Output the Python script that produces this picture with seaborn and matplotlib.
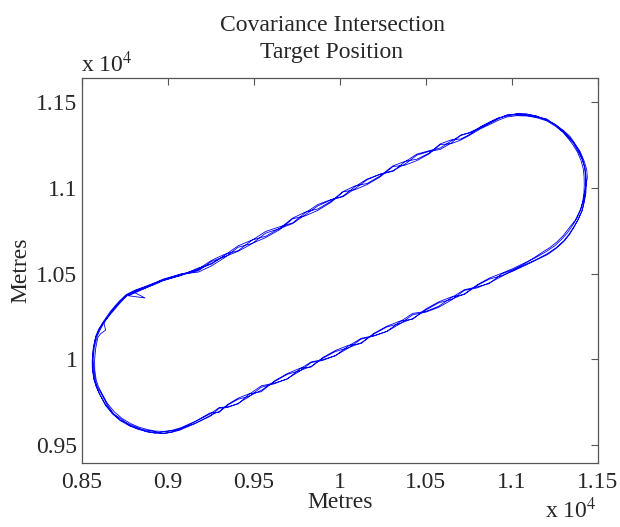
import pandas as pd
import seaborn as sns
import matplotlib
matplotlib.use("Agg")
import matplotlib.pyplot as plt
from matplotlib.ticker import FixedLocator, FuncFormatter

# Fused target track in metres. Straights are sampled at fixed eastings;
# each lap has its own northings there and its own points round both bends.
start_x = [8800, 8869, 8772, 8838, 8925, 8975, 9075]
start_y = [10394, 10358, 10371, 10400, 10440, 10462, 10492]

upper_x = [9179, 9255, 9330, 9410, 9490, 9570, 9654, 9727, 9800, 9875, 9950, 10020,
           10090, 10160, 10235, 10310, 10380, 10450, 10520, 10585, 10650, 10705, 10758]
lower_x = [10942, 10870, 10800, 10725, 10650, 10575, 10500, 10425, 10351, 10275, 10200,
           10125, 10050, 9975, 9900, 9835, 9770, 9695, 9620, 9545, 9470, 9410, 9350,
           9300, 9247]

lap1_upper_y = [10527, 10577, 10612, 10634, 10694, 10746, 10774, 10796, 10855, 10904, 10932,
                10953, 11008, 11052, 11080, 11097, 11153, 11198, 11217, 11233, 11275, 11306,
                11325]
lap2_upper_y = [10509, 10545, 10592, 10654, 10676, 10710, 10758, 10820, 10837, 10870, 10916,
                10977, 10990, 11020, 11064, 11125, 11133, 11160, 11199, 11253, 11259, 11280,
                11309]
lap3_upper_y = [10533, 10555, 10606, 10662, 10696, 10718, 10766, 10824, 10859, 10878, 10922,
                10979, 11012, 11026, 11070, 11129, 11155, 11168, 11203, 11257, 11281, 11286,
                11313]
lap4_upper_y = [10517, 10571, 10598, 10630, 10674, 10736, 10764, 10792, 10843, 10896, 10930,
                10949, 10996, 11048, 11080, 11101, 11139, 11192, 11213, 11225, 11263, 11310,
                11321]

lap1_lower_y = [10484, 10446, 10417, 10402, 10346, 10303, 10275, 10260, 10207, 10163, 10136,
                10118, 10065, 10021, 9993, 9981, 9932, 9886, 9857, 9837, 9779, 9743, 9719,
                9714, 9667]
lap2_lower_y = [10502, 10474, 10435, 10378, 10364, 10335, 10293, 10234, 10223, 10193, 10152,
                10092, 10081, 10051, 10009, 9955, 9948, 9916, 9873, 9811, 9797, 9773, 9737,
                9690, 9687]
lap3_lower_y = [10498, 10442, 10423, 10406, 10360, 10309, 10279, 10268, 10219, 10163, 10138,
                10122, 10077, 10021, 9997, 9985, 9944, 9884, 9861, 9845, 9793, 9739, 9723,
                9718, 9681]
lap4_lower_y = [10488, 10468, 10431, 10382, 10350, 10329, 10287, 10238, 10209, 10189, 10148,
                10096, 10067, 10045, 10005, 9959, 9934, 9912, 9869, 9819, 9783, 9767, 9733,
                9696, 9671]

lap1_east_x = [10820, 10874, 10920, 10971, 11030, 11087, 11145, 11203, 11255, 11300, 11333,
               11362, 11390, 11412, 11426, 11432, 11434, 11431, 11422, 11410, 11388, 11360,
               11334, 11303, 11258, 11205, 11140, 11066, 11003]
lap1_east_y = [11355, 11382, 11406, 11424, 11433, 11430, 11418, 11399, 11368, 11331, 11298,
               11264, 11218, 11166, 11117, 11067, 11018, 10969, 10918, 10869, 10818, 10771,
               10731, 10692, 10651, 10615, 10581, 10546, 10517]
lap2_east_x = [10820, 10874, 10920, 10971, 11030, 11087, 11145, 11203, 11255, 11300, 11328,
               11354, 11382, 11403, 11416, 11421, 11422, 11420, 11413, 11402, 11380, 11352,
               11327, 11294, 11250, 11198, 11136, 11064, 11004]
lap2_east_y = [11346, 11371, 11394, 11414, 11422, 11420, 11410, 11392, 11360, 11323, 11290,
               11255, 11210, 11160, 11112, 11064, 11016, 10970, 10922, 10874, 10824, 10779,
               10742, 10704, 10662, 10627, 10592, 10557, 10528]
lap3_east_x = [10820, 10874, 10920, 10971, 11030, 11087, 11145, 11203, 11255, 11300, 11338,
               11368, 11398, 11420, 11436, 11440, 11432, 11424, 11416, 11400, 11370, 11335,
               11300, 11262, 11222, 11180, 11128, 11068, 11006]
lap3_east_y = [11358, 11386, 11408, 11420, 11432, 11432, 11420, 11396, 11370, 11336, 11302,
               11258, 11212, 11160, 11108, 11060, 11020, 10974, 10926, 10876, 10812, 10768,
               10722, 10684, 10652, 10626, 10591, 10553, 10522]
lap4_east_x = [10820, 10874, 10920, 10971, 11030, 11087, 11145, 11203, 11255, 11300, 11331,
               11358, 11386, 11409, 11424, 11429, 11430, 11428, 11420, 11409, 11386, 11362,
               11336, 11306, 11260, 11208, 11144, 11070, 11006]
lap4_east_y = [11350, 11378, 11402, 11426, 11427, 11424, 11414, 11403, 11366, 11326, 11294,
               11262, 11214, 11168, 11119, 11064, 11018, 10967, 10920, 10868, 10816, 10770,
               10728, 10690, 10648, 10611, 10580, 10544, 10514]

lap1_west_x = [9158, 9070, 9024, 8975, 8926, 8877, 8827, 8778, 8725, 8680, 8638, 8604, 8586,
               8574, 8566, 8564, 8570, 8583, 8600, 8623, 8668, 8720, 8760, 8812, 8868, 8924,
               8975, 9075]
lap1_west_y = [9624, 9586, 9574, 9567, 9569, 9578, 9592, 9612, 9642, 9681, 9733, 9800, 9840,
               9880, 9938, 9998, 10068, 10135, 10176, 10214, 10280, 10340, 10378, 10404, 10424,
               10446, 10468, 10497]
lap2_west_x = [9162, 9076, 9027, 8977, 8930, 8882, 8834, 8787, 8737, 8692, 8650, 8616, 8597,
               8585, 8577, 8576, 8582, 8595, 8612, 8640, 8630, 8676, 8728, 8766, 8818, 8872,
               8926, 8975, 9075]
lap2_west_y = [9638, 9600, 9586, 9579, 9581, 9590, 9604, 9624, 9654, 9692, 9743, 9806, 9843,
               9881, 9937, 9995, 10062, 10128, 10150, 10170, 10215, 10272, 10333, 10372, 10396,
               10416, 10437, 10459, 10488]
lap3_west_x = [9156, 9068, 9022, 8973, 8925, 8876, 8828, 8780, 8727, 8680, 8640, 8604, 8586,
               8572, 8563, 8562, 8568, 8582, 8600, 8622, 8668, 8718, 8758, 8812, 8866, 8922,
               8975, 9075]
lap3_west_y = [9634, 9590, 9582, 9575, 9571, 9578, 9600, 9620, 9645, 9688, 9736, 9798, 9842,
               9883, 9940, 9993, 10063, 10128, 10168, 10206, 10270, 10332, 10370, 10398, 10418,
               10440, 10461, 10490]
lap4_west_x = [9160, 9074, 9026, 8976, 8928, 8880, 8831, 8783, 8733, 8688, 8646, 8610, 8592,
               8580, 8572, 8568, 8574, 8590, 8607, 8630, 8674, 8726, 8764, 8816, 8868, 8924,
               8975, 9075, 9179, 9255, 9330]
lap4_west_y = [9626, 9595, 9576, 9566, 9577, 9585, 9595, 9612, 9650, 9680, 9740, 9808, 9838,
               9876, 9934, 10000, 10066, 10133, 10170, 10212, 10278, 10338, 10376, 10402, 10421,
               10444, 10464, 10496, 10522, 10560, 10602]

x_ticks = [8500, 9000, 9500, 10000, 10500, 11000, 11500]
y_ticks = [9500, 10000, 10500, 11000, 11500]

xs = (start_x
      + upper_x + lap1_east_x + lower_x + lap1_west_x
      + upper_x + lap2_east_x + lower_x + lap2_west_x
      + upper_x + lap3_east_x + lower_x + lap3_west_x
      + upper_x + lap4_east_x + lower_x + lap4_west_x)
ys = (start_y
      + lap1_upper_y + lap1_east_y + lap1_lower_y + lap1_west_y
      + lap2_upper_y + lap2_east_y + lap2_lower_y + lap2_west_y
      + lap3_upper_y + lap3_east_y + lap3_lower_y + lap3_west_y
      + lap4_upper_y + lap4_east_y + lap4_lower_y + lap4_west_y)
track = pd.DataFrame({"x": xs, "y": ys})

sns.set_style("white")
plt.rcParams["font.family"] = ["Liberation Serif", "DejaVu Serif"]
plt.rcParams["mathtext.fontset"] = "stix"

W, H = 620, 527
fig = plt.figure(figsize=(W / 100, H / 100), dpi=100)
ax = fig.add_axes([81.5 / W, 1 - 463.3 / H, (597.7 - 81.5) / W, (463.3 - 78.3) / H])

sns.lineplot(data=track, x="x", y="y", sort=False, estimator=None,
             color="#0000ff", linewidth=0.6, ax=ax)

ax.set_xlim(8500, 11500)
ax.set_ylim(9393, 11640)
ax.xaxis.set_major_locator(FixedLocator(x_ticks))
ax.yaxis.set_major_locator(FixedLocator(y_ticks))
fmt = FuncFormatter(lambda v, p: f"{round(v / 1e4, 3):g}")
ax.xaxis.set_major_formatter(fmt)
ax.yaxis.set_major_formatter(fmt)
ax.tick_params(direction="in", length=5, width=0.8, color="#555555",
               top=True, right=True, labelsize=17)
ax.tick_params(axis="y", pad=3)
ax.tick_params(axis="x", pad=6)
for s in ax.spines.values():
    s.set_color("#555555")
    s.set_linewidth(0.9)

ax.set_xlabel("")
ax.set_ylabel("")
fig.text(340 / W, 1 - 502 / H, "Metres", ha="center", va="center", fontsize=17)
fig.text(21 / W, 1 - 270 / H, "Metres", ha="center", va="center", rotation=90, fontsize=17)

fig.text(332 / W, 1 - 31 / H, "Covariance Intersection", ha="center", va="baseline", fontsize=17)
fig.text(332 / W, 1 - 58 / H, "Target Position", ha="center", va="baseline", fontsize=17)

fig.text(81 / W, 1 - 72 / H, r"x 10$^{4}$", ha="left", va="baseline", fontsize=17)
fig.text(597 / W, 1 - 518 / H, r"x 10$^{4}$", ha="right", va="baseline", fontsize=17)

fig.savefig("out.png", dpi=100, facecolor="white")
